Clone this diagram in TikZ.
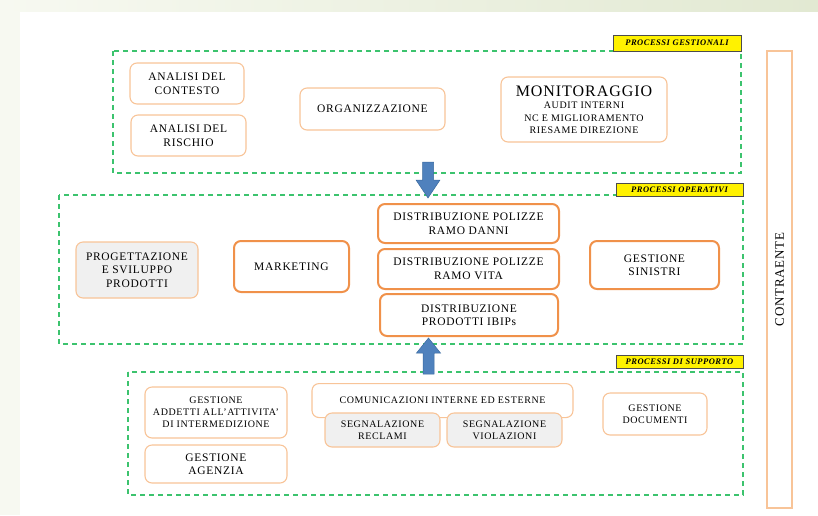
\documentclass[tikz,border=0pt]{standalone}
\usepackage{fontspec}
\setmainfont{Liberation Serif}[LetterSpace=6]
\definecolor{dgreen}{HTML}{3CC36E}
\definecolor{lorange}{HTML}{F8C498}
\definecolor{dorange}{HTML}{F0914A}
\definecolor{boxgray}{HTML}{F0F0F0}
\definecolor{arrblue}{HTML}{4F81BD}
\definecolor{arrblueb}{HTML}{3A6A9E}
\definecolor{bandR}{HTML}{E2E9D2}
\definecolor{bandL}{HTML}{F7F9F1}
\tikzset{
  x=1pt,y=-1pt,
  every node/.style={font=\fontsize{11.5}{13.5}\selectfont, align=center, inner sep=0pt},
  small/.style={font=\fontsize{10}{12}\selectfont},
  thin box/.style={draw=lorange, line width=1.1pt, rounded corners=7pt, fill=white},
  thick box/.style={draw=dorange, line width=2pt, rounded corners=7pt, fill=white},
  gray box/.style={draw=lorange, line width=1.1pt, rounded corners=7pt, fill=boxgray},
  group/.style={draw=dgreen, line width=1.4pt, dash pattern=on 5pt off 4pt},
  tag/.style={draw=black!70, line width=0.6pt, fill=yellow, font=\fontsize{8.5}{10}\selectfont\bfseries\itshape},
  bigarrow/.style={draw=arrblueb, line width=0.5pt, fill=arrblue},
}
\begin{document}
\begin{tikzpicture}
\useasboundingbox (0,0) rectangle (818,515);
% background
\shade[left color=bandL, right color=bandR] (0,0) rectangle (818,11);
\fill[bandL] (0,11) rectangle (20,515);

% groups
\draw[group] (113,51) rectangle (741,173);
\node[tag, minimum width=128, minimum height=16] (tg) at (677,43) {PROCESSI GESTIONALI};
\draw[group] (59,195) rectangle (743,344);
\node[tag, minimum width=127, minimum height=13] (to) at (679.5,189.5) {PROCESSI OPERATIVI};
\draw[group] (128,372) rectangle (743,495);
\node[tag, minimum width=127, minimum height=13] (ts) at (679.5,361.5) {PROCESSI DI SUPPORTO};

% gestionali
\node[thin box, minimum width=114, minimum height=41] (ctx) at (187,83.5) {ANALISI DEL\\CONTESTO};
\node[thin box, minimum width=115, minimum height=41] (ris) at (188.5,135.5) {ANALISI DEL\\RISCHIO};
\node[thin box, minimum width=145, minimum height=42] (org) at (372.5,109) {ORGANIZZAZIONE};
\node[thin box, minimum width=166, minimum height=65] (mon) at (584,109.5) {{\fontsize{16}{17}\selectfont MONITORAGGIO}\\[-1pt]{\fontsize{10}{12}\selectfont AUDIT INTERNI}\\[-1pt]{\fontsize{10}{12}\selectfont NC E MIGLIORAMENTO}\\[-1pt]{\fontsize{10}{12}\selectfont RIESAME DIREZIONE}};

% operativi
\node[gray box, minimum width=122, minimum height=56] (prog) at (137,270) {PROGETTAZIONE\\E SVILUPPO\\PRODOTTI};
\node[thick box, minimum width=115, minimum height=51] (mkt) at (291.5,266.5) {MARKETING};
\node[thick box, minimum width=181, minimum height=39] (dan) at (468.5,223.5) {DISTRIBUZIONE POLIZZE\\RAMO DANNI};
\node[thick box, minimum width=181, minimum height=40] (vit) at (468.5,269) {DISTRIBUZIONE POLIZZE\\RAMO VITA};
\node[thick box, minimum width=178, minimum height=42] (ibi) at (469,315) {DISTRIBUZIONE\\PRODOTTI IBIPs};
\node[thick box, minimum width=129, minimum height=48] (sin) at (654.5,265) {GESTIONE\\SINISTRI};

% supporto
\node[thin box, small, minimum width=142, minimum height=51] (add) at (216,412.5) {GESTIONE\\ADDETTI ALL'ATTIVITA'\\DI INTERMEDIZIONE};
\node[thin box, minimum width=142, minimum height=38] (age) at (216,464) {GESTIONE\\AGENZIA};
\node[thin box, minimum width=261, minimum height=34, anchor=north] (com) at (442.5,383) {};
\node[small] (comt) at (442.5,400) {COMUNICAZIONI INTERNE ED ESTERNE};
\node[gray box, small, minimum width=115, minimum height=34] (rec) at (382.5,430) {SEGNALAZIONE\\RECLAMI};
\node[gray box, small, minimum width=115, minimum height=34] (vio) at (504.5,430) {SEGNALAZIONE\\VIOLAZIONI};
\node[thin box, small, minimum width=104, minimum height=42] (doc) at (655,414) {GESTIONE\\DOCUMENTI};

% contraente
\node[draw=lorange, line width=1.1pt, fill=white, minimum width=25, minimum height=457] (con) at (779.5,279.5) {};
\node[rotate=90, font=\fontsize{13}{15}\selectfont] (cont) at (con.center) {CONTRAENTE};

% block arrows
\draw[bigarrow] (422.5,162) -- (433.5,162) -- (433.5,180) -- (440,180) -- (428,198) -- (416,180) -- (422.5,180) -- cycle;
\draw[bigarrow] (423,374) -- (434,374) -- (434,353) -- (440.5,353) -- (428.5,338) -- (416.5,353) -- (423,353) -- cycle;
\end{tikzpicture}
\end{document}
